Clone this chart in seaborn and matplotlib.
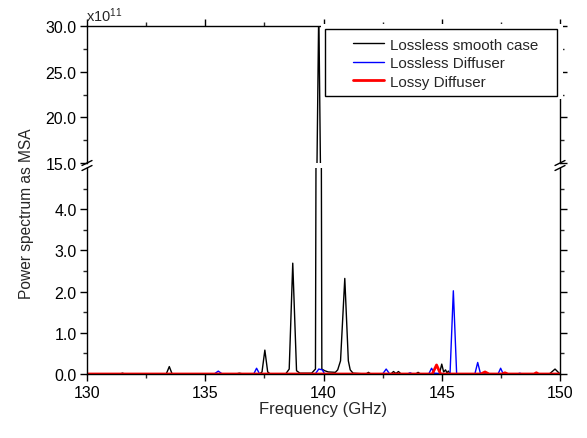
import matplotlib
matplotlib.use("Agg")
import numpy as np
import pandas as pd
import seaborn as sns
import matplotlib.pyplot as plt
from matplotlib.ticker import MultipleLocator, FormatStrFormatter, FixedLocator
from matplotlib.lines import Line2D
from matplotlib.patches import Rectangle

# ---------------- data (power in units of 1e11) ----------------
series_names = ["Lossless smooth case", "Lossless Diffuser", "Lossy Diffuser"]

smooth_freq = [130.0, 131.4, 131.5, 131.6, 133.35, 133.48, 133.6, 136.3, 136.44, 136.6,
               137.3, 137.4, 137.52, 137.64, 137.75, 138.4, 138.55, 138.7, 138.86, 139.0,
               139.5, 139.66, 139.8, 139.93, 140.05, 140.2, 140.5, 140.6, 140.72, 140.9,
               141.05, 141.13, 141.25, 141.8, 141.9, 142.0, 142.85, 142.96, 143.06, 143.17,
               143.28, 143.9, 144.0, 144.1, 144.9, 145.0, 145.08, 145.16, 145.22, 145.28,
               145.36, 149.55, 149.79, 150.0]
smooth_val = [0, 0, 0.02, 0, 0, 0.18, 0, 0, 0.02, 0,
              0, 0.05, 0.58, 0.05, 0, 0, 0.12, 2.69, 0.08, 0.02,
              0.02, 0.12, 32.0, 0.12, 0.08, 0.05, 0.04, 0.10, 0.32, 2.32,
              0.32, 0.10, 0.02, 0, 0.04, 0, 0, 0.06, 0.01, 0.06,
              0, 0, 0.04, 0, 0, 0.24, 0.05, 0.10, 0.03, 0.07,
              0, 0, 0.12, 0]

diffuser_freq = [130.0, 135.38, 135.55, 135.72, 137.05, 137.17, 137.3, 139.65, 139.8, 139.95,
                 140.05, 142.5, 142.65, 142.8, 143.55, 143.66, 143.77, 144.45, 144.57, 144.68,
                 145.35, 145.49, 145.63, 146.4, 146.52, 146.64, 147.38, 147.49, 147.6, 148.2,
                 148.3, 148.4, 150.0]
diffuser_val = [0, 0, 0.07, 0, 0, 0.14, 0, 0, 0.12, 0.10,
                0, 0, 0.12, 0, 0, 0.03, 0, 0, 0.14, 0.02,
                0, 2.02, 0, 0, 0.28, 0, 0, 0.14, 0, 0,
                0.02, 0, 0]

lossy_freq = [130.0, 144.6, 144.78, 144.95, 146.65, 146.83, 147.0, 147.55, 147.67, 147.8,
              148.9, 149.0, 149.1, 150.0]
lossy_val = [0, 0, 0.22, 0, 0, 0.05, 0, 0, 0.03, 0,
             0, 0.03, 0, 0]

series_colors = ["#000000", "#0000ff", "#ff0000"]
series_widths = [1.0, 1.0, 2.0]

x_ticks = [130, 135, 140, 145, 150]
lower_yticks = [0.0, 1.0, 2.0, 3.0, 4.0]
upper_yticks = [15.0, 20.0, 25.0, 30.0]

df = pd.concat([
    pd.DataFrame({"freq": smooth_freq, "power": smooth_val, "series": series_names[0]}),
    pd.DataFrame({"freq": diffuser_freq, "power": diffuser_val, "series": series_names[1]}),
    pd.DataFrame({"freq": lossy_freq, "power": lossy_val, "series": series_names[2]}),
], ignore_index=True)

# ---------------- style ----------------
sns.set_style("ticks")
plt.rcParams["font.family"] = ["Liberation Sans", "DejaVu Sans"]
plt.rcParams["mathtext.fontset"] = "custom"
plt.rcParams["mathtext.rm"] = "Liberation Sans"
plt.rcParams["mathtext.it"] = "Liberation Sans:italic"

W, H = 587, 439
fig = plt.figure(figsize=(W / 100, H / 100), dpi=100)

def fx(px):
    return px / W

def fy(py):
    return 1 - py / H

left, right = 87, 560
ax_top = fig.add_axes([fx(left), fy(164), fx(right - left), fy(27) - fy(164)])
ax_bot = fig.add_axes([fx(left), fy(375), fx(right - left), fy(169) - fy(375)])

palette = dict(zip(series_names, series_colors))
sizes = dict(zip(series_names, series_widths))

for ax in (ax_top, ax_bot):
    sns.lineplot(data=df, x="freq", y="power", hue="series", hue_order=series_names,
                 palette=palette, size="series", sizes=sizes, size_order=series_names,
                 estimator=None, sort=False, legend=False, ax=ax)
    ax.set_xlim(130, 150)
    ax.set_xlabel("")
    ax.set_ylabel("")
    for sp in ax.spines.values():
        sp.set_linewidth(1.0)
        sp.set_color("black")
    ax.tick_params(which="major", direction="out", length=5, width=1, labelsize=11.5,
                   colors="black", right=True, labelright=False, pad=2.5)
    ax.tick_params(which="minor", direction="out", length=3, width=1, right=True)

ax_bot.set_ylim(0, 5.0)
ax_bot.yaxis.set_major_locator(FixedLocator(lower_yticks))
ax_bot.yaxis.set_minor_locator(FixedLocator([0.5, 1.5, 2.5, 3.5, 4.5]))
ax_bot.yaxis.set_major_formatter(FormatStrFormatter("%.1f"))
ax_bot.xaxis.set_major_locator(FixedLocator(x_ticks))
ax_bot.xaxis.set_minor_locator(MultipleLocator(2.5))
ax_bot.spines["top"].set_visible(False)
ax_bot.tick_params(axis="x", top=False, pad=3)

ax_top.set_ylim(15.0, 30.0)
ax_top.yaxis.set_major_locator(FixedLocator(upper_yticks))
ax_top.yaxis.set_minor_locator(FixedLocator([17.5, 22.5, 27.5]))
ax_top.yaxis.set_major_formatter(FormatStrFormatter("%.1f"))
ax_top.xaxis.set_major_locator(FixedLocator(x_ticks))
ax_top.xaxis.set_minor_locator(MultipleLocator(2.5))
ax_top.spines["bottom"].set_visible(False)
ax_top.tick_params(axis="x", which="both", bottom=False, labelbottom=False, top=True)

# break marks
for xp in (left, right):
    for yc in (164, 169):
        fig.add_artist(Line2D([fx(xp - 5), fx(xp + 5)], [fy(yc + 2.5), fy(yc - 2.5)],
                              color="black", lw=1.0))

# legend (white background hides frame corner, like the original)
fig.add_artist(Rectangle((fx(321), fy(100)), fx(563) - fx(321), fy(25) - fy(100),
                         transform=fig.transFigure, facecolor="white", edgecolor="none",
                         zorder=3))
fig.add_artist(Rectangle((fx(325), fy(97)), fx(557) - fx(325), fy(30) - fy(97),
                         transform=fig.transFigure, facecolor="none", edgecolor="black",
                         lw=1.0, zorder=4))
handles = [Line2D([], [], color=c, lw=w) for c, w in zip(series_colors, series_widths)]
fig.legend(handles, series_names, loc="upper left", bbox_to_anchor=(fx(345), fy(31)),
           frameon=False, fontsize=10.9, handlelength=2.1, handletextpad=0.35,
           borderpad=0, labelspacing=0.3)

fig.text(fx(86), fy(16), "x10$^{11}$", ha="left", va="center", fontsize=10.5)
fig.text(fx(27), fy(214), "Power spectrum as MSA", rotation=90, ha="center", va="center",
         fontsize=11.2)
fig.text(fx(323), fy(410), "Frequency (GHz)", ha="center", va="center", fontsize=12)

fig.savefig("out.png", dpi=100)
